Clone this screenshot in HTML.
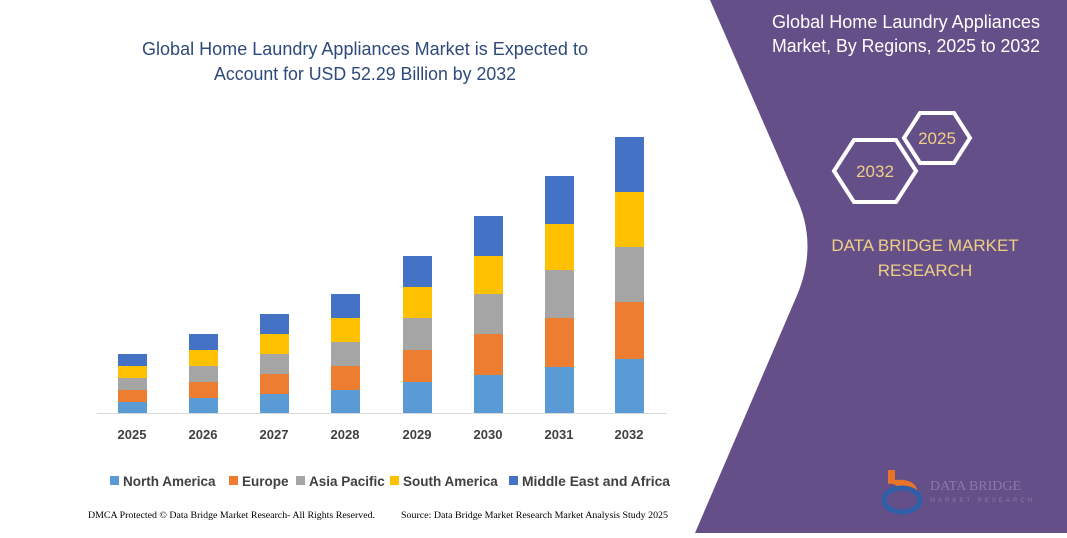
<!DOCTYPE html>
<html><head><meta charset="utf-8"><style>
body{margin:0;width:1067px;height:533px;overflow:hidden;background:#fff;font-family:"Liberation Sans",sans-serif}
</style></head><body>
<svg width="1067" height="533" viewBox="0 0 1067 533" xmlns="http://www.w3.org/2000/svg">
<path d="M710,0 L1067,0 L1067,533 L695,533 L795,300 Q820,245 795,195 Z" fill="#654f88"/>
<text x="906" y="28" fill="#fff" font-size="18" text-anchor="middle" textLength="268" lengthAdjust="spacingAndGlyphs">Global Home Laundry Appliances</text>
<text x="906" y="52" fill="#fff" font-size="18" text-anchor="middle" textLength="268" lengthAdjust="spacingAndGlyphs">Market, By Regions, 2025 to 2032</text>
<polygon points="834,171 854,140 896,140 916,171 896,202 854,202" fill="none" stroke="#fff" stroke-width="4"/>
<polygon points="904,138 920,113 954,113 970,138 954,163 920,163" fill="none" stroke="#fff" stroke-width="4"/>
<text x="875" y="177" fill="#f0cf85" font-size="17" text-anchor="middle">2032</text>
<text x="937" y="144" fill="#f0cf85" font-size="17" text-anchor="middle">2025</text>
<text x="925" y="251" fill="#f0cf85" font-size="17" text-anchor="middle">DATA BRIDGE MARKET</text>
<text x="925" y="276" fill="#f0cf85" font-size="17" text-anchor="middle">RESEARCH</text>
<path d="M888,470 L895,470 L895,480 Q915,478 918,492 L900,490 Q895,482 888,484 Z" fill="#e8742a"/>
<ellipse cx="902" cy="500" rx="18" ry="12" fill="none" stroke="#2f5fa8" stroke-width="5"/>
<text x="930" y="490" fill="#8a7aa8" font-size="14" font-family="Liberation Serif">DATA BRIDGE</text>
<text x="930" y="502" fill="#8a7aa8" font-size="6" letter-spacing="3">MARKET RESEARCH</text>
<text x="365" y="55" fill="#2e4a7a" font-size="18" text-anchor="middle" textLength="446" lengthAdjust="spacingAndGlyphs">Global Home Laundry Appliances Market is Expected to</text>
<text x="365" y="80" fill="#2e4a7a" font-size="18" text-anchor="middle" textLength="302" lengthAdjust="spacingAndGlyphs">Account for USD 52.29 Billion by 2032</text>
<line x1="97" y1="413.5" x2="667" y2="413.5" stroke="#d9d9d9"/>
<g font-size="13" font-weight="bold" fill="#404040" text-anchor="middle">
<text x="132" y="439">2025</text><text x="203" y="439">2026</text><text x="274" y="439">2027</text><text x="345" y="439">2028</text><text x="417" y="439">2029</text><text x="488" y="439">2030</text><text x="559" y="439">2031</text><text x="629" y="439">2032</text>
</g>
<g font-size="13.5" font-weight="bold" fill="#404040">
<rect x="110" y="476" width="9" height="9" fill="#5b9bd5"/><text x="123" y="486">North America</text>
<rect x="229" y="476" width="9" height="9" fill="#ed7d31"/><text x="242" y="486">Europe</text>
<rect x="296" y="476" width="9" height="9" fill="#a5a5a5"/><text x="309" y="486">Asia Pacific</text>
<rect x="390" y="476" width="9" height="9" fill="#ffc000"/><text x="403" y="486">South America</text>
<rect x="509" y="476" width="9" height="9" fill="#4472c4"/><text x="522" y="486" textLength="148" lengthAdjust="spacingAndGlyphs">Middle East and Africa</text>
</g>
<text x="88" y="518" font-size="9" font-family="Liberation Serif" fill="#000" textLength="287" lengthAdjust="spacingAndGlyphs">DMCA Protected © Data Bridge Market Research- All Rights Reserved.</text>
<text x="401" y="518" font-size="9" font-family="Liberation Serif" fill="#000" textLength="267" lengthAdjust="spacingAndGlyphs">Source: Data Bridge Market Research Market Analysis Study 2025</text>
<g>
<rect x="118" y="402" width="29" height="11" fill="#5b9bd5"/><rect x="118" y="390" width="29" height="12" fill="#ed7d31"/><rect x="118" y="378" width="29" height="12" fill="#a5a5a5"/><rect x="118" y="366" width="29" height="12" fill="#ffc000"/><rect x="118" y="354" width="29" height="12" fill="#4472c4"/>
<rect x="189" y="398" width="29" height="15" fill="#5b9bd5"/><rect x="189" y="382" width="29" height="16" fill="#ed7d31"/><rect x="189" y="366" width="29" height="16" fill="#a5a5a5"/><rect x="189" y="350" width="29" height="16" fill="#ffc000"/><rect x="189" y="334" width="29" height="16" fill="#4472c4"/>
<rect x="260" y="394" width="29" height="19" fill="#5b9bd5"/><rect x="260" y="374" width="29" height="20" fill="#ed7d31"/><rect x="260" y="354" width="29" height="20" fill="#a5a5a5"/><rect x="260" y="334" width="29" height="20" fill="#ffc000"/><rect x="260" y="314" width="29" height="20" fill="#4472c4"/>
<rect x="331" y="390" width="29" height="23" fill="#5b9bd5"/><rect x="331" y="366" width="29" height="24" fill="#ed7d31"/><rect x="331" y="342" width="29" height="24" fill="#a5a5a5"/><rect x="331" y="318" width="29" height="24" fill="#ffc000"/><rect x="331" y="294" width="29" height="24" fill="#4472c4"/>
<rect x="403" y="382" width="29" height="31" fill="#5b9bd5"/><rect x="403" y="350" width="29" height="32" fill="#ed7d31"/><rect x="403" y="318" width="29" height="32" fill="#a5a5a5"/><rect x="403" y="287" width="29" height="31" fill="#ffc000"/><rect x="403" y="256" width="29" height="31" fill="#4472c4"/>
<rect x="474" y="375" width="29" height="38" fill="#5b9bd5"/><rect x="474" y="334" width="29" height="41" fill="#ed7d31"/><rect x="474" y="294" width="29" height="40" fill="#a5a5a5"/><rect x="474" y="256" width="29" height="38" fill="#ffc000"/><rect x="474" y="216" width="29" height="40" fill="#4472c4"/>
<rect x="545" y="367" width="29" height="46" fill="#5b9bd5"/><rect x="545" y="318" width="29" height="49" fill="#ed7d31"/><rect x="545" y="270" width="29" height="48" fill="#a5a5a5"/><rect x="545" y="224" width="29" height="46" fill="#ffc000"/><rect x="545" y="176" width="29" height="48" fill="#4472c4"/>
<rect x="615" y="359" width="29" height="54" fill="#5b9bd5"/><rect x="615" y="302" width="29" height="57" fill="#ed7d31"/><rect x="615" y="247" width="29" height="55" fill="#a5a5a5"/><rect x="615" y="192" width="29" height="55" fill="#ffc000"/><rect x="615" y="137" width="29" height="55" fill="#4472c4"/>
</g>
</svg>
</body></html>
